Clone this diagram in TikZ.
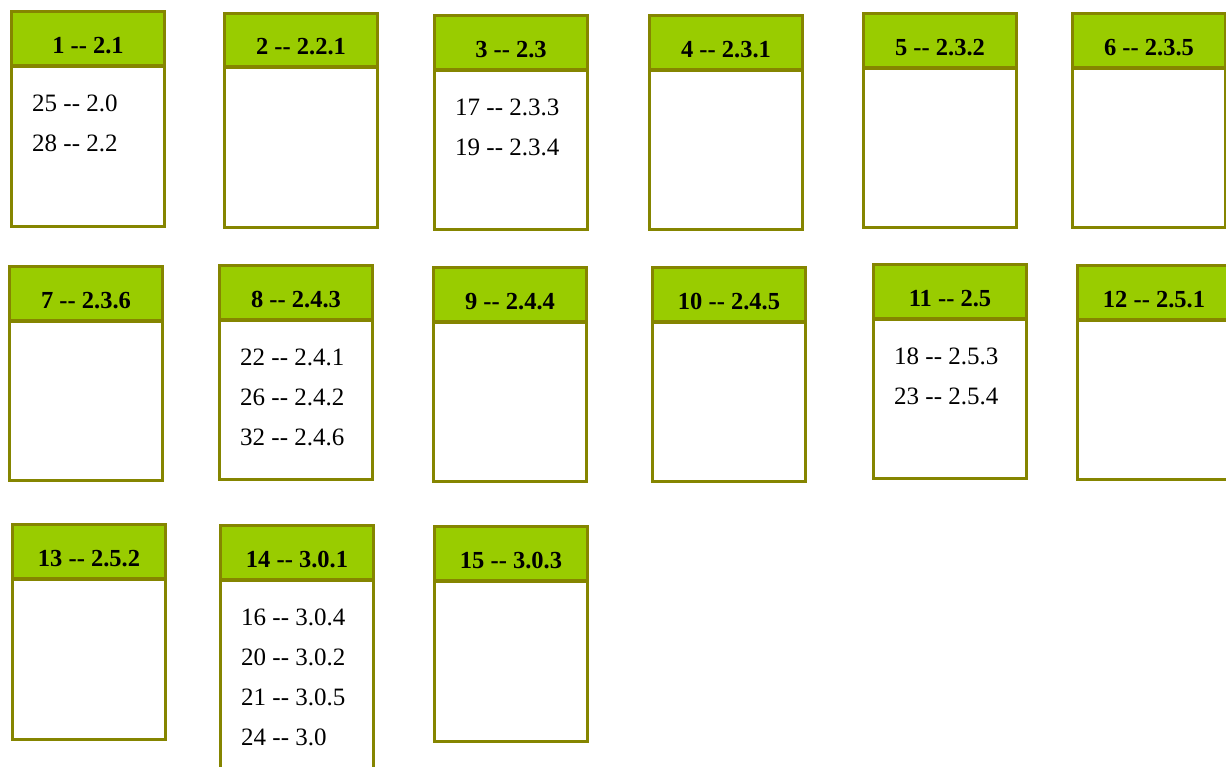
\documentclass[tikz,border=0pt]{standalone}
\usepackage{fontspec}
\setmainfont{Liberation Serif}
\definecolor{hdrfill}{HTML}{99CC00}
\definecolor{olivebd}{HTML}{858500}
\tikzset{
  headbox/.style={draw=olivebd, line width=3pt, fill=hdrfill, minimum width=153pt, inner sep=0pt, outer sep=0pt},
  bodybox/.style={draw=olivebd, line width=3pt, fill=white, minimum width=153pt, inner sep=0pt, outer sep=0pt},
  divider/.style={draw=olivebd, line width=4pt},
  titletext/.style={font=\fontsize{24.5}{28}\selectfont\bfseries, inner sep=0pt},
  itemtext/.style={font=\fontsize{25}{30}\selectfont, inner sep=0pt, anchor=west}
}
% #1 id, #2 left, #3 top, #4 divider, #5 bottom, #6 title
\newcommand{\mycard}[6]{%
  \pgfmathsetmacro{\hh}{#4-#3-1.5}%
  \pgfmathsetmacro{\bh}{#5-#4-1.5}%
  \node[bodybox, minimum height=\bh pt, anchor=north west] (b#1) at (#2+1.5,#4) {};
  \node[headbox, minimum height=\hh pt, anchor=south west] (h#1) at (b#1.north west) {};
  \draw[divider] (h#1.south west) -- (h#1.south east);
  \node[titletext] (t#1) at ([yshift=-6.5pt]h#1.center) {#6};
}
% #1 id, #2 list of lines
\newcommand{\myitems}[2]{%
  \foreach \l [count=\i] in {#2} {
    \node[itemtext] (i#1-\i) at ([xshift=20.5pt, yshift={-37.5pt-40pt*(\i-1)}]b#1.north west) {\l};
  }
}
\begin{document}
\begin{tikzpicture}[x=1pt,y=-1pt]
\useasboundingbox (0,0) rectangle (1226,766);
\fill[white] (0,0) rectangle (1226,766);
\begin{scope}
\clip (0,0) rectangle (1226,766);
% row 1
\mycard{1}{10}{10}{66}{228}{1 -{}- 2.1}
\mycard{2}{223}{12}{67}{229}{2 -{}- 2.2.1}
\mycard{3}{433}{14}{70}{231}{3 -{}- 2.3}
\mycard{4}{648}{14}{70}{231}{4 -{}- 2.3.1}
\mycard{5}{862}{12}{68}{229}{5 -{}- 2.3.2}
\mycard{6}{1071}{12}{68}{229}{6 -{}- 2.3.5}
% row 2
\mycard{7}{8}{265}{321}{482}{7 -{}- 2.3.6}
\mycard{8}{218}{264}{320}{481}{8 -{}- 2.4.3}
\mycard{9}{432}{266}{322}{483}{9 -{}- 2.4.4}
\mycard{10}{651}{266}{322}{483}{10 -{}- 2.4.5}
\mycard{11}{872}{263}{319}{480}{11 -{}- 2.5}
\mycard{12}{1076}{264}{320}{481}{12 -{}- 2.5.1}
% row 3
\mycard{13}{11}{523}{579}{741}{13 -{}- 2.5.2}
\mycard{14}{219}{524}{580}{800}{14 -{}- 3.0.1}
\mycard{15}{433}{525}{581}{743}{15 -{}- 3.0.3}
% items
\myitems{1}{25 -{}- 2.0, 28 -{}- 2.2}
\myitems{3}{17 -{}- 2.3.3, 19 -{}- 2.3.4}
\myitems{8}{22 -{}- 2.4.1, 26 -{}- 2.4.2, 32 -{}- 2.4.6}
\myitems{11}{18 -{}- 2.5.3, 23 -{}- 2.5.4}
\myitems{14}{16 -{}- 3.0.4, 20 -{}- 3.0.2, 21 -{}- 3.0.5, 24 -{}- 3.0}
\end{scope}
\end{tikzpicture}
\end{document}
